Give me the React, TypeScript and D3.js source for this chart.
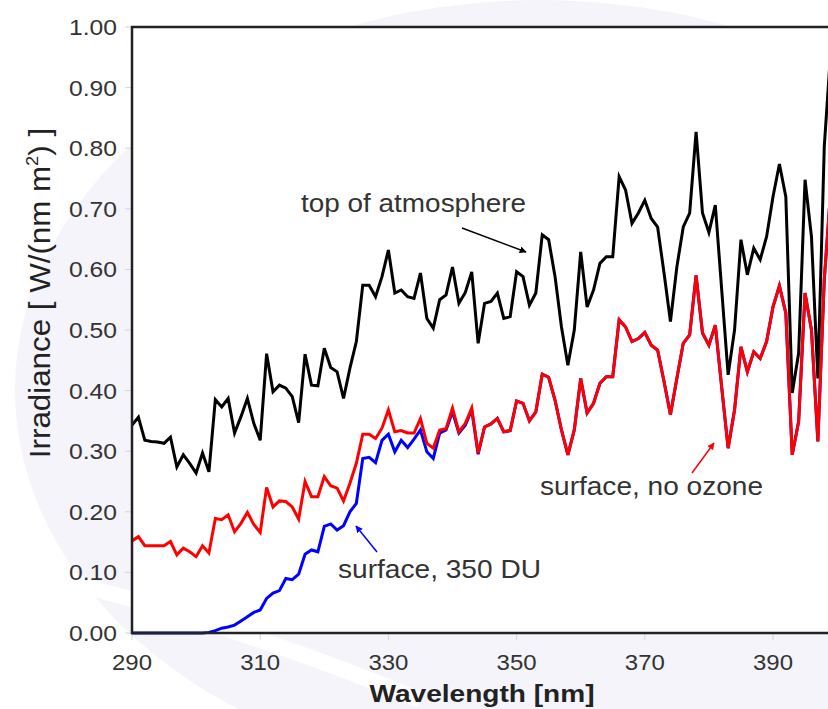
import React, { useEffect, useRef } from 'react';
import * as d3 from 'd3';

// wavelength grid, 1 nm steps
const wavelengths = d3.range(290, 400);

const topOfAtmosphere = [
  0.343, 0.356, 0.318, 0.316, 0.315, 0.313, 0.323, 0.274, 0.294, 0.280,
  0.264, 0.297, 0.266, 0.385, 0.373, 0.387, 0.330, 0.357, 0.387, 0.346,
  0.318, 0.461, 0.398, 0.409, 0.404, 0.390, 0.347, 0.460, 0.409, 0.408,
  0.470, 0.438, 0.431, 0.387, 0.437, 0.481, 0.574, 0.574, 0.555, 0.588,
  0.632, 0.561, 0.566, 0.555, 0.552, 0.594, 0.519, 0.503, 0.550, 0.558,
  0.604, 0.544, 0.562, 0.596, 0.478, 0.544, 0.547, 0.561, 0.519, 0.522,
  0.596, 0.588, 0.541, 0.561, 0.657, 0.649, 0.588, 0.505, 0.442, 0.500,
  0.629, 0.538, 0.566, 0.610, 0.621, 0.621, 0.753, 0.731, 0.676, 0.693,
  0.714, 0.684, 0.670, 0.594, 0.514, 0.604, 0.670, 0.693, 0.827, 0.693,
  0.661, 0.706, 0.566, 0.426, 0.500, 0.649, 0.591, 0.635, 0.616, 0.654,
  0.720, 0.774, 0.720, 0.396, 0.462, 0.748, 0.654, 0.420, 0.803, 0.960,
];

const surfaceNoOzone = [
  0.152, 0.159, 0.144, 0.144, 0.144, 0.144, 0.151, 0.129, 0.140, 0.134,
  0.126, 0.144, 0.132, 0.189, 0.187, 0.195, 0.167, 0.181, 0.199, 0.179,
  0.166, 0.240, 0.208, 0.218, 0.217, 0.208, 0.188, 0.250, 0.225, 0.225,
  0.258, 0.243, 0.239, 0.218, 0.247, 0.280, 0.328, 0.328, 0.321, 0.338,
  0.368, 0.332, 0.334, 0.330, 0.330, 0.354, 0.313, 0.305, 0.335, 0.337,
  0.371, 0.332, 0.346, 0.371, 0.297, 0.340, 0.345, 0.354, 0.332, 0.334,
  0.383, 0.379, 0.350, 0.365, 0.427, 0.422, 0.384, 0.335, 0.294, 0.335,
  0.420, 0.363, 0.379, 0.412, 0.423, 0.423, 0.517, 0.505, 0.481, 0.486,
  0.496, 0.475, 0.467, 0.415, 0.360, 0.420, 0.478, 0.492, 0.590, 0.495,
  0.475, 0.508, 0.405, 0.305, 0.368, 0.472, 0.431, 0.464, 0.453, 0.481,
  0.538, 0.573, 0.528, 0.294, 0.349, 0.561, 0.500, 0.316, 0.583, 0.730,
];

const surface350DU = [
  0.000, 0.000, 0.000, 0.000, 0.000, 0.000, 0.000, 0.000, 0.000, 0.000,
  0.000, 0.000, 0.001, 0.004, 0.008, 0.010, 0.013, 0.020, 0.027, 0.034,
  0.038, 0.057, 0.066, 0.070, 0.090, 0.088, 0.097, 0.130, 0.137, 0.134,
  0.176, 0.180, 0.170, 0.177, 0.200, 0.214, 0.288, 0.290, 0.281, 0.318,
  0.328, 0.299, 0.318, 0.306, 0.320, 0.335, 0.299, 0.288, 0.330, 0.335,
  0.365, 0.330, 0.343, 0.368, 0.295, 0.340, 0.345, 0.354, 0.332, 0.334,
  0.383, 0.379, 0.350, 0.365, 0.427, 0.422, 0.384, 0.335, 0.294, 0.335,
  0.420, 0.363, 0.379, 0.412, 0.423, 0.423, 0.517, 0.505, 0.481, 0.486,
  0.496, 0.475, 0.467, 0.415, 0.360, 0.420, 0.478, 0.492, 0.590, 0.495,
  0.475, 0.508, 0.405, 0.305, 0.368, 0.472, 0.431, 0.464, 0.453, 0.481,
  0.538, 0.573, 0.528, 0.294, 0.349, 0.561, 0.500, 0.316, 0.583, 0.730,
];

const xTicks = [290, 310, 330, 350, 370, 390];
const yTicks = [0, 0.1, 0.2, 0.3, 0.4, 0.5, 0.6, 0.7, 0.8, 0.9, 1.0];

const FONT = '"Liberation Sans", Arial, sans-serif';

export default function App() {
  const ref = useRef<SVGSVGElement>(null);

  useEffect(() => {
    if (!ref.current) return;
    const W = 828;
    const H = 709;
    const left = 132;
    const top = 27;
    const bottom = 633;

    const svg = d3.select(ref.current);
    svg.selectAll('*').remove();
    svg.attr('width', W).attr('height', H);

    const x = d3.scaleLinear().domain([290, 390]).range([left, 773]);
    const y = d3.scaleLinear().domain([0, 1]).range([bottom, top]);

    // faint watermark behind the chart
    svg.append('rect').attr('width', W).attr('height', H).attr('fill', '#fff');
    svg.append('ellipse')
      .attr('cx', 540).attr('cy', 390).attr('rx', 525).attr('ry', 390)
      .attr('fill', '#f4f4fa');
    svg.append('path')
      .attr('d', 'M -20 560 Q 200 610 420 700')
      .attr('fill', 'none').attr('stroke', '#fff').attr('stroke-width', 16);

    // plot area
    svg.append('rect')
      .attr('x', left).attr('y', top)
      .attr('width', W - left).attr('height', bottom - top)
      .attr('fill', '#fff');

    const defs = svg.append('defs');
    defs.append('clipPath').attr('id', 'plotClip')
      .append('rect')
      .attr('x', left).attr('y', top - 2)
      .attr('width', W - left).attr('height', bottom - top + 4);

    ['#000', '#f00', '#00f'].forEach((c, i) => {
      defs.append('marker')
        .attr('id', `arrow${i}`)
        .attr('viewBox', '0 0 10 10')
        .attr('refX', 9).attr('refY', 5)
        .attr('markerWidth', 7).attr('markerHeight', 7)
        .attr('markerUnits', 'userSpaceOnUse')
        .attr('orient', 'auto')
        .append('path')
        .attr('d', 'M0,0 L10,5 L0,10 z')
        .attr('fill', c);
    });

    // ticks
    svg.append('g').selectAll('line').data(yTicks).enter().append('line')
      .attr('x1', left - 7).attr('x2', left)
      .attr('y1', d => y(d)).attr('y2', d => y(d))
      .attr('stroke', '#d4d4dc').attr('stroke-width', 1);
    svg.append('g').selectAll('line').data(xTicks).enter().append('line')
      .attr('x1', d => x(d)).attr('x2', d => x(d))
      .attr('y1', bottom).attr('y2', bottom + 7)
      .attr('stroke', '#d4d4dc').attr('stroke-width', 1);

    // tick labels
    svg.append('g').selectAll('text').data(yTicks).enter().append('text')
      .attr('x', 117).attr('y', d => y(d) + 8)
      .attr('text-anchor', 'end')
      .attr('font-family', FONT).attr('font-size', 22)
      .attr('textLength', 48).attr('lengthAdjust', 'spacingAndGlyphs')
      .attr('fill', '#333')
      .text(d => d.toFixed(2));
    svg.append('g').selectAll('text').data(xTicks).enter().append('text')
      .attr('x', d => x(d)).attr('y', 670)
      .attr('text-anchor', 'middle')
      .attr('font-family', FONT).attr('font-size', 22)
      .attr('textLength', 40).attr('lengthAdjust', 'spacingAndGlyphs')
      .attr('fill', '#333')
      .text(d => d);

    // series
    const line = d3.line<number>()
      .x((_, i) => x(wavelengths[i]))
      .y(d => y(d))
      .curve(d3.curveLinear);

    const plot = svg.append('g').attr('clip-path', 'url(#plotClip)');
    const series = [
      { values: topOfAtmosphere, color: '#000' },
      { values: surface350DU, color: '#00f' },
      { values: surfaceNoOzone, color: '#f00' },
    ];
    series.forEach(s => {
      plot.append('path')
        .datum(s.values)
        .attr('d', line)
        .attr('fill', 'none')
        .attr('stroke', s.color)
        .attr('stroke-width', 3)
        .attr('stroke-linejoin', 'miter');
    });

    // axes frame
    svg.append('path')
      .attr('d', `M ${W} ${top} H ${left} V ${bottom} H ${W}`)
      .attr('fill', 'none').attr('stroke', '#222').attr('stroke-width', 2.5);

    // annotations
    const notes = [
      { text: 'top of atmosphere', x: 301, y: 212, len: 225, from: [462, 228], to: [526, 252], m: 0 },
      { text: 'surface, no ozone', x: 540, y: 495, len: 223, from: [692, 473], to: [714, 443], m: 1 },
      { text: 'surface, 350 DU', x: 338, y: 578, len: 203, from: [377, 552], to: [356, 526], m: 2 },
    ];
    const colors = ['#000', '#f00', '#00f'];
    notes.forEach(n => {
      svg.append('text')
        .attr('x', n.x).attr('y', n.y)
        .attr('font-family', FONT).attr('font-size', 25)
        .attr('fill', '#333')
        .attr('textLength', n.len)
        .attr('lengthAdjust', 'spacingAndGlyphs')
        .text(n.text);
      svg.append('line')
        .attr('x1', n.from[0]).attr('y1', n.from[1])
        .attr('x2', n.to[0]).attr('y2', n.to[1])
        .attr('stroke', colors[n.m]).attr('stroke-width', 1.5)
        .attr('marker-end', `url(#arrow${n.m})`);
    });

    // axis titles
    svg.append('text')
      .attr('x', 482).attr('y', 702)
      .attr('text-anchor', 'middle')
      .attr('font-family', FONT).attr('font-size', 24).attr('font-weight', 'bold')
      .attr('fill', '#222')
      .attr('textLength', 225).attr('lengthAdjust', 'spacingAndGlyphs')
      .text('Wavelength [nm]');

    const yt = svg.append('text')
      .attr('transform', 'translate(50, 293) rotate(-90) scale(1.08, 1)')
      .attr('text-anchor', 'middle')
      .attr('font-family', FONT)
      .attr('font-size', 29)
      .attr('fill', '#222');
    yt.append('tspan').text('Irradiance [ W/(nm m');
    yt.append('tspan').attr('font-size', 17).attr('dy', -12).text('2');
    yt.append('tspan').attr('dy', 12).text(') ]');
  }, []);

  return (
    <div style={{ position: 'absolute', left: 0, top: 0 }}>
      <svg ref={ref} style={{ display: 'block' }}></svg>
    </div>
  );
}
